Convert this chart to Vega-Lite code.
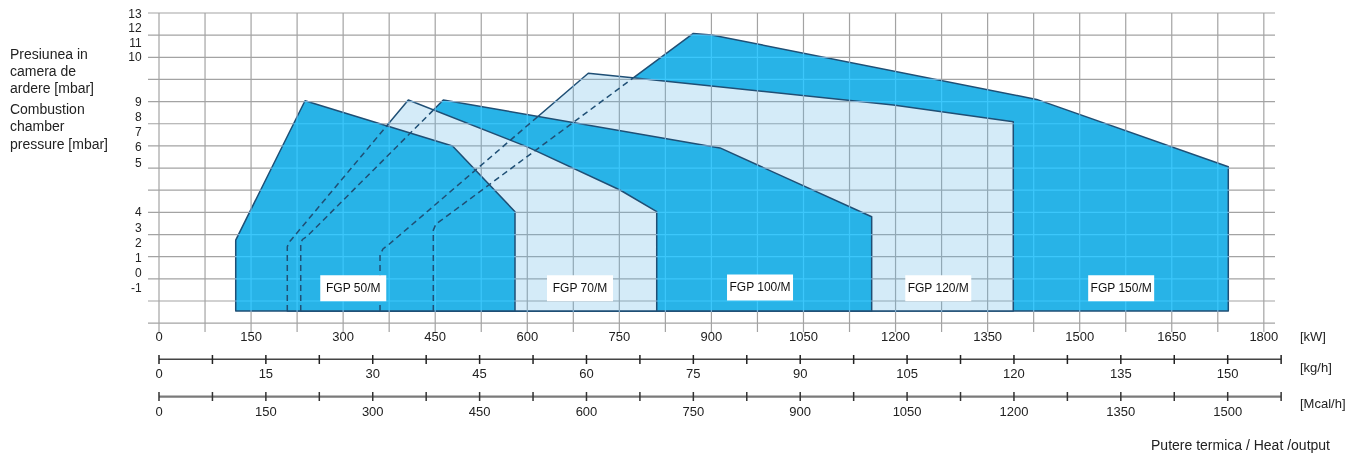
{
  "$schema": "https://vega.github.io/schema/vega-lite/v6.json",
  "width": 1127,
  "height": 319,
  "autosize": "none",
  "padding": {"left": 148, "top": 13, "right": 80, "bottom": 124},
  "background": "white",
  "config": {"view": {"stroke": null}, "axisY": {"disable": true}, "text": {"font": "Liberation Sans", "color": "#222222"}},
  "datasets": {
    "fields": [
      {"burner": "FGP 150/M", "kw": 446.9, "u": 4.2},
      {"burner": "FGP 150/M", "kw": 451.3, "u": 4.48},
      {"burner": "FGP 150/M", "kw": 460.6, "u": 4.66},
      {"burner": "FGP 150/M", "kw": 870.5, "u": 13.08},
      {"burner": "FGP 150/M", "kw": 900.5, "u": 13.01},
      {"burner": "FGP 150/M", "kw": 1429.9, "u": 10.1},
      {"burner": "FGP 150/M", "kw": 1742.1, "u": 7.06},
      {"burner": "FGP 120/M", "kw": 360.1, "u": 3.08},
      {"burner": "FGP 120/M", "kw": 364.9, "u": 3.35},
      {"burner": "FGP 120/M", "kw": 373.6, "u": 3.53},
      {"burner": "FGP 120/M", "kw": 699.4, "u": 11.28},
      {"burner": "FGP 120/M", "kw": 775.5, "u": 11.07},
      {"burner": "FGP 120/M", "kw": 1196.3, "u": 9.85},
      {"burner": "FGP 120/M", "kw": 1391.8, "u": 9.09},
      {"burner": "FGP 100/M", "kw": 230.9, "u": 3.62},
      {"burner": "FGP 100/M", "kw": 233.8, "u": 3.78},
      {"burner": "FGP 100/M", "kw": 240.6, "u": 3.9},
      {"burner": "FGP 100/M", "kw": 463.2, "u": 10.07},
      {"burner": "FGP 100/M", "kw": 914.0, "u": 7.91},
      {"burner": "FGP 100/M", "kw": 1161.1, "u": 4.8},
      {"burner": "FGP 70/M", "kw": 209.0, "u": 3.44},
      {"burner": "FGP 70/M", "kw": 211.0, "u": 3.62},
      {"burner": "FGP 70/M", "kw": 215.9, "u": 3.78},
      {"burner": "FGP 70/M", "kw": 406.2, "u": 10.07},
      {"burner": "FGP 70/M", "kw": 599.1, "u": 7.97},
      {"burner": "FGP 70/M", "kw": 751.1, "u": 6.01},
      {"burner": "FGP 70/M", "kw": 810.9, "u": 5.03},
      {"burner": "FGP 50/M", "kw": 125.0, "u": 3.75},
      {"burner": "FGP 50/M", "kw": 237.9, "u": 10.04},
      {"burner": "FGP 50/M", "kw": 478.2, "u": 8.0},
      {"burner": "FGP 50/M", "kw": 580.0, "u": 5.03}
    ],
    "limits": [
      {"burner": "FGP 70/M", "ord": 1, "kw": 209.0, "u": 0.55},
      {"burner": "FGP 70/M", "ord": 2, "kw": 209.0, "u": 3.44},
      {"burner": "FGP 70/M", "ord": 3, "kw": 211.0, "u": 3.62},
      {"burner": "FGP 70/M", "ord": 4, "kw": 215.9, "u": 3.78},
      {"burner": "FGP 70/M", "ord": 5, "kw": 373.6, "u": 8.99},
      {"burner": "FGP 100/M", "ord": 1, "kw": 230.9, "u": 0.55},
      {"burner": "FGP 100/M", "ord": 2, "kw": 230.9, "u": 3.62},
      {"burner": "FGP 100/M", "ord": 3, "kw": 233.8, "u": 3.78},
      {"burner": "FGP 100/M", "ord": 4, "kw": 240.6, "u": 3.9},
      {"burner": "FGP 100/M", "ord": 5, "kw": 447.0, "u": 9.62},
      {"burner": "FGP 120/M", "ord": 1, "kw": 360.1, "u": 0.55},
      {"burner": "FGP 120/M", "ord": 2, "kw": 360.1, "u": 3.08},
      {"burner": "FGP 120/M", "ord": 3, "kw": 364.9, "u": 3.35},
      {"burner": "FGP 120/M", "ord": 4, "kw": 373.6, "u": 3.53},
      {"burner": "FGP 120/M", "ord": 5, "kw": 617.5, "u": 9.33},
      {"burner": "FGP 150/M", "ord": 1, "kw": 446.9, "u": 0.55},
      {"burner": "FGP 150/M", "ord": 2, "kw": 446.9, "u": 4.2},
      {"burner": "FGP 150/M", "ord": 3, "kw": 451.3, "u": 4.48},
      {"burner": "FGP 150/M", "ord": 4, "kw": 460.6, "u": 4.66},
      {"burner": "FGP 150/M", "ord": 5, "kw": 772.7, "u": 11.07}
    ],
    "labels": [
      {"name": "FGP 50/M", "kw": 316.5, "u": 1.57},
      {"name": "FGP 70/M", "kw": 685.9, "u": 1.57},
      {"name": "FGP 100/M", "kw": 979.2, "u": 1.61},
      {"name": "FGP 120/M", "kw": 1269.6, "u": 1.57},
      {"name": "FGP 150/M", "kw": 1567.6, "u": 1.57}
    ],
    "vgrid": [
      {"kw": 0}, {"kw": 75}, {"kw": 150}, {"kw": 225}, {"kw": 300}, {"kw": 375}, {"kw": 450}, {"kw": 525}, {"kw": 600}, {"kw": 675}, {"kw": 750}, {"kw": 825}, {"kw": 900}, {"kw": 975}, {"kw": 1050}, {"kw": 1125}, {"kw": 1200}, {"kw": 1275}, {"kw": 1350}, {"kw": 1425}, {"kw": 1500}, {"kw": 1575}, {"kw": 1650}, {"kw": 1725}, {"kw": 1800}
    ],
    "kw_labels": [
      {"kw": 0}, {"kw": 150}, {"kw": 300}, {"kw": 450}, {"kw": 600}, {"kw": 750}, {"kw": 900}, {"kw": 1050}, {"kw": 1200}, {"kw": 1350}, {"kw": 1500}, {"kw": 1650}, {"kw": 1800}
    ],
    "hgrid": [
      {"u": 0}, {"u": 1}, {"u": 2}, {"u": 3}, {"u": 4}, {"u": 5}, {"u": 6}, {"u": 7}, {"u": 8}, {"u": 9}, {"u": 10}, {"u": 11}, {"u": 12}, {"u": 13}, {"u": 14}
    ],
    "ylabels": [
      {"t": "13", "u": 13.96}, {"t": "12", "u": 13.31}, {"t": "11", "u": 12.66}, {"t": "10", "u": 12.0},
      {"t": "9", "u": 10.0}, {"t": "8", "u": 9.32}, {"t": "7", "u": 8.64}, {"t": "6", "u": 7.97}, {"t": "5", "u": 7.25},
      {"t": "4", "u": 5.0}, {"t": "3", "u": 4.31}, {"t": "2", "u": 3.6}, {"t": "1", "u": 2.93}, {"t": "0", "u": 2.25}, {"t": "-1", "u": 1.57}
    ],
    "ytitle": [
      {"t": "Presiunea in", "u": 12.11}, {"t": "camera de", "u": 11.35}, {"t": "ardere [mbar]", "u": 10.57},
      {"t": "Combustion", "u": 9.62}, {"t": "chamber", "u": 8.85}, {"t": "pressure [mbar]", "u": 8.04}
    ],
    "units": [
      {"t": "[kW]", "u": -0.64}, {"t": "[kg/h]", "u": -2.03}, {"t": "[Mcal/h]", "u": -3.65}
    ],
    "xtitle": [{"t": "Putere termica / Heat /output", "u": -5.56}],
    "kgh_ticks": [
      {"kgh": 0}, {"kgh": 7.5}, {"kgh": 15}, {"kgh": 22.5}, {"kgh": 30}, {"kgh": 37.5}, {"kgh": 45}, {"kgh": 52.5}, {"kgh": 60}, {"kgh": 67.5}, {"kgh": 75}, {"kgh": 82.5}, {"kgh": 90}, {"kgh": 97.5}, {"kgh": 105}, {"kgh": 112.5}, {"kgh": 120}, {"kgh": 127.5}, {"kgh": 135}, {"kgh": 142.5}, {"kgh": 150}, {"kgh": 157.5}
    ],
    "kgh_labels": [
      {"kgh": 0}, {"kgh": 15}, {"kgh": 30}, {"kgh": 45}, {"kgh": 60}, {"kgh": 75}, {"kgh": 90}, {"kgh": 105}, {"kgh": 120}, {"kgh": 135}, {"kgh": 150}
    ],
    "mcal_ticks": [
      {"mcal": 0}, {"mcal": 75}, {"mcal": 150}, {"mcal": 225}, {"mcal": 300}, {"mcal": 375}, {"mcal": 450}, {"mcal": 525}, {"mcal": 600}, {"mcal": 675}, {"mcal": 750}, {"mcal": 825}, {"mcal": 900}, {"mcal": 975}, {"mcal": 1050}, {"mcal": 1125}, {"mcal": 1200}, {"mcal": 1275}, {"mcal": 1350}, {"mcal": 1425}, {"mcal": 1500}, {"mcal": 1575}
    ],
    "mcal_labels": [
      {"mcal": 0}, {"mcal": 150}, {"mcal": 300}, {"mcal": 450}, {"mcal": 600}, {"mcal": 750}, {"mcal": 900}, {"mcal": 1050}, {"mcal": 1200}, {"mcal": 1350}, {"mcal": 1500}
    ]
  },
  "resolve": {"scale": {"x": "independent"}},
  "layer": [
    {
      "layer": [
        {
          "data": {"name": "fields"},
          "transform": [{"filter": "datum.burner == 'FGP 150/M'"}],
          "mark": {"type": "area", "fill": "#28b3e7", "fillOpacity": 1, "stroke": "#1f4f75", "strokeWidth": 1.5, "strokeJoin": "round"},
          "encoding": {
            "x": {"field": "kw", "type": "quantitative", "scale": {"domain": [-17.92, 1818.2], "nice": false, "zero": false}, "axis": null},
            "y": {"field": "u", "type": "quantitative", "scale": {"domain": [-0.4, 14], "nice": false, "zero": false}, "axis": null},
            "y2": {"datum": 0.55}
          }
        },
        {
          "data": {"name": "fields"},
          "transform": [{"filter": "datum.burner == 'FGP 120/M'"}],
          "mark": {"type": "area", "fill": "#d4ebf8", "fillOpacity": 1, "stroke": "#1f4f75", "strokeWidth": 1.5, "strokeJoin": "round"},
          "encoding": {
            "x": {"field": "kw", "type": "quantitative", "scale": {"domain": [-17.92, 1818.2], "nice": false, "zero": false}, "axis": null},
            "y": {"field": "u", "type": "quantitative", "scale": {"domain": [-0.4, 14], "nice": false, "zero": false}, "axis": null},
            "y2": {"datum": 0.55}
          }
        },
        {
          "data": {"name": "fields"},
          "transform": [{"filter": "datum.burner == 'FGP 100/M'"}],
          "mark": {"type": "area", "fill": "#28b3e7", "fillOpacity": 1, "stroke": "#1f4f75", "strokeWidth": 1.5, "strokeJoin": "round"},
          "encoding": {
            "x": {"field": "kw", "type": "quantitative", "scale": {"domain": [-17.92, 1818.2], "nice": false, "zero": false}, "axis": null},
            "y": {"field": "u", "type": "quantitative", "scale": {"domain": [-0.4, 14], "nice": false, "zero": false}, "axis": null},
            "y2": {"datum": 0.55}
          }
        },
        {
          "data": {"name": "fields"},
          "transform": [{"filter": "datum.burner == 'FGP 70/M'"}],
          "mark": {"type": "area", "fill": "#d4ebf8", "fillOpacity": 1, "stroke": "#1f4f75", "strokeWidth": 1.5, "strokeJoin": "round"},
          "encoding": {
            "x": {"field": "kw", "type": "quantitative", "scale": {"domain": [-17.92, 1818.2], "nice": false, "zero": false}, "axis": null},
            "y": {"field": "u", "type": "quantitative", "scale": {"domain": [-0.4, 14], "nice": false, "zero": false}, "axis": null},
            "y2": {"datum": 0.55}
          }
        },
        {
          "data": {"name": "fields"},
          "transform": [{"filter": "datum.burner == 'FGP 50/M'"}],
          "mark": {"type": "area", "fill": "#28b3e7", "fillOpacity": 1, "stroke": "#1f4f75", "strokeWidth": 1.5, "strokeJoin": "round"},
          "encoding": {
            "x": {"field": "kw", "type": "quantitative", "scale": {"domain": [-17.92, 1818.2], "nice": false, "zero": false}, "axis": null},
            "y": {"field": "u", "type": "quantitative", "scale": {"domain": [-0.4, 14], "nice": false, "zero": false}, "axis": null},
            "y2": {"datum": 0.55}
          }
        },
        {
          "data": {"name": "vgrid"},
          "mark": {"type": "rule", "stroke": "#a3a3a3", "strokeWidth": 1.2, "blend": "luminosity"},
          "encoding": {
            "x": {"field": "kw", "type": "quantitative", "scale": {"domain": [-17.92, 1818.2], "nice": false, "zero": false}, "axis": null}
          }
        },
        {
          "data": {"name": "hgrid"},
          "mark": {"type": "rule", "stroke": "#a3a3a3", "strokeWidth": 1.2, "blend": "luminosity"},
          "encoding": {
            "y": {"field": "u", "type": "quantitative", "scale": {"domain": [-0.4, 14], "nice": false, "zero": false}, "axis": null}
          }
        },
        {
          "data": {"name": "limits"},
          "mark": {"type": "line", "stroke": "#1f4f75", "strokeWidth": 1.5, "strokeDash": [6, 4]},
          "encoding": {
            "x": {"field": "kw", "type": "quantitative", "scale": {"domain": [-17.92, 1818.2], "nice": false, "zero": false}, "axis": null},
            "y": {"field": "u", "type": "quantitative", "scale": {"domain": [-0.4, 14], "nice": false, "zero": false}, "axis": null},
            "detail": {"field": "burner"},
            "order": {"field": "ord", "type": "quantitative"}
          }
        },
        {
          "data": {"name": "labels"},
          "mark": {"type": "point", "shape": "M-1,-0.394H1V0.394H-1Z", "size": 4356, "filled": true, "fill": "white", "opacity": 1, "strokeWidth": 0},
          "encoding": {
            "x": {"field": "kw", "type": "quantitative", "scale": {"domain": [-17.92, 1818.2], "nice": false, "zero": false}, "axis": null},
            "y": {"field": "u", "type": "quantitative", "scale": {"domain": [-0.4, 14], "nice": false, "zero": false}, "axis": null}
          }
        },
        {
          "data": {"name": "labels"},
          "mark": {"type": "text", "fontSize": 12, "align": "center", "baseline": "middle", "color": "#111111"},
          "encoding": {
            "x": {"field": "kw", "type": "quantitative", "scale": {"domain": [-17.92, 1818.2], "nice": false, "zero": false}, "axis": null},
            "y": {"field": "u", "type": "quantitative", "scale": {"domain": [-0.4, 14], "nice": false, "zero": false}, "axis": null},
            "text": {"field": "name"}
          }
        },
        {
          "data": {"name": "kw_labels"},
          "mark": {"type": "text", "fontSize": 13, "align": "center", "baseline": "middle"},
          "encoding": {
            "x": {"field": "kw", "type": "quantitative", "scale": {"domain": [-17.92, 1818.2], "nice": false, "zero": false}, "axis": null},
            "y": {"datum": -0.648, "type": "quantitative", "scale": {"domain": [-0.4, 14], "nice": false, "zero": false}, "axis": null},
            "text": {"field": "kw", "type": "quantitative", "format": "d"}
          }
        },
        {
          "data": {"name": "ylabels"},
          "mark": {"type": "text", "fontSize": 12, "align": "right", "baseline": "middle"},
          "encoding": {
            "x": {"datum": -28.2, "type": "quantitative", "scale": {"domain": [-17.92, 1818.2], "nice": false, "zero": false}, "axis": null},
            "y": {"field": "u", "type": "quantitative", "scale": {"domain": [-0.4, 14], "nice": false, "zero": false}, "axis": null},
            "text": {"field": "t"}
          }
        },
        {
          "data": {"name": "ytitle"},
          "mark": {"type": "text", "fontSize": 14, "align": "left", "baseline": "middle"},
          "encoding": {
            "x": {"datum": -242.8, "type": "quantitative", "scale": {"domain": [-17.92, 1818.2], "nice": false, "zero": false}, "axis": null},
            "y": {"field": "u", "type": "quantitative", "scale": {"domain": [-0.4, 14], "nice": false, "zero": false}, "axis": null},
            "text": {"field": "t"}
          }
        },
        {
          "data": {"name": "units"},
          "mark": {"type": "text", "fontSize": 13, "align": "left", "baseline": "middle"},
          "encoding": {
            "x": {"datum": 1858.9, "type": "quantitative", "scale": {"domain": [-17.92, 1818.2], "nice": false, "zero": false}, "axis": null},
            "y": {"field": "u", "type": "quantitative", "scale": {"domain": [-0.4, 14], "nice": false, "zero": false}, "axis": null},
            "text": {"field": "t"}
          }
        },
        {
          "data": {"name": "xtitle"},
          "mark": {"type": "text", "fontSize": 14, "align": "right", "baseline": "middle"},
          "encoding": {
            "x": {"datum": 1907.8, "type": "quantitative", "scale": {"domain": [-17.92, 1818.2], "nice": false, "zero": false}, "axis": null},
            "y": {"field": "u", "type": "quantitative", "scale": {"domain": [-0.4, 14], "nice": false, "zero": false}, "axis": null},
            "text": {"field": "t"}
          }
        }
      ]
    },
    {
      "layer": [
        {
          "data": {"name": "kgh_ticks"},
          "mark": {"type": "rule", "stroke": "#444444", "strokeWidth": 1.4},
          "encoding": {
            "x": {"aggregate": "min", "field": "kgh", "type": "quantitative", "scale": {"domain": [-1.5439, 156.64], "nice": false, "zero": false}, "axis": null},
            "x2": {"aggregate": "max", "field": "kgh"},
            "y": {"datum": -1.632, "type": "quantitative", "scale": {"domain": [-0.4, 14], "nice": false, "zero": false}, "axis": null}
          }
        },
        {
          "data": {"name": "kgh_ticks"},
          "mark": {"type": "rule", "stroke": "#222222", "strokeWidth": 1.5},
          "encoding": {
            "x": {"field": "kgh", "type": "quantitative", "scale": {"domain": [-1.5439, 156.64], "nice": false, "zero": false}, "axis": null},
            "y": {"datum": -1.438, "type": "quantitative", "scale": {"domain": [-0.4, 14], "nice": false, "zero": false}, "axis": null},
            "y2": {"datum": -1.844}
          }
        },
        {
          "data": {"name": "kgh_labels"},
          "mark": {"type": "text", "fontSize": 13, "align": "center", "baseline": "middle"},
          "encoding": {
            "x": {"field": "kgh", "type": "quantitative", "scale": {"domain": [-1.5439, 156.64], "nice": false, "zero": false}, "axis": null},
            "y": {"datum": -2.296, "type": "quantitative", "scale": {"domain": [-0.4, 14], "nice": false, "zero": false}, "axis": null},
            "text": {"field": "kgh", "type": "quantitative", "format": "d"}
          }
        }
      ]
    },
    {
      "layer": [
        {
          "data": {"name": "mcal_ticks"},
          "mark": {"type": "rule", "stroke": "#7a7a7a", "strokeWidth": 2.2},
          "encoding": {
            "x": {"aggregate": "min", "field": "mcal", "type": "quantitative", "scale": {"domain": [-15.439, 1566.4], "nice": false, "zero": false}, "axis": null},
            "x2": {"aggregate": "max", "field": "mcal"},
            "y": {"datum": -3.321, "type": "quantitative", "scale": {"domain": [-0.4, 14], "nice": false, "zero": false}, "axis": null}
          }
        },
        {
          "data": {"name": "mcal_ticks"},
          "mark": {"type": "rule", "stroke": "#333333", "strokeWidth": 1.5},
          "encoding": {
            "x": {"field": "mcal", "type": "quantitative", "scale": {"domain": [-15.439, 1566.4], "nice": false, "zero": false}, "axis": null},
            "y": {"datum": -3.108, "type": "quantitative", "scale": {"domain": [-0.4, 14], "nice": false, "zero": false}, "axis": null},
            "y2": {"datum": -3.515}
          }
        },
        {
          "data": {"name": "mcal_labels"},
          "mark": {"type": "text", "fontSize": 13, "align": "center", "baseline": "middle"},
          "encoding": {
            "x": {"field": "mcal", "type": "quantitative", "scale": {"domain": [-15.439, 1566.4], "nice": false, "zero": false}, "axis": null},
            "y": {"datum": -3.998, "type": "quantitative", "scale": {"domain": [-0.4, 14], "nice": false, "zero": false}, "axis": null},
            "text": {"field": "mcal", "type": "quantitative", "format": "d"}
          }
        }
      ]
    }
  ]
}
